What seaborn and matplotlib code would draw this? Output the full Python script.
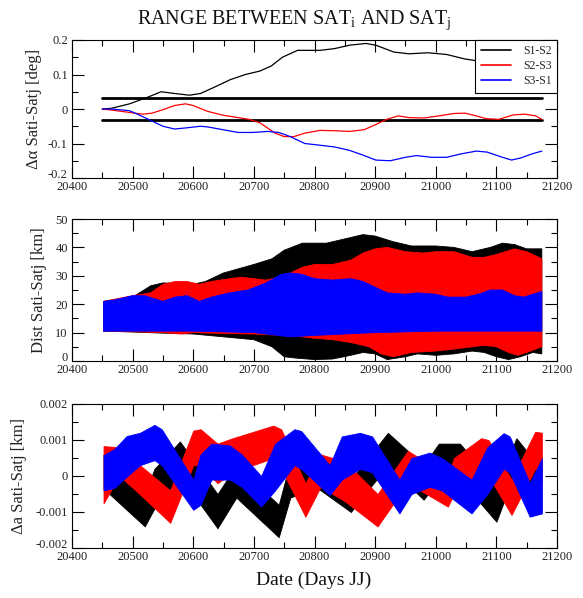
import numpy as np
import pandas as pd
import matplotlib
matplotlib.use("Agg")
import matplotlib.pyplot as plt
import seaborn as sns
from matplotlib.ticker import MultipleLocator

# ---------------- DATA ----------------
series_names = ["S1-S2", "S2-S3", "S3-S1"]
series_colors = ["black", "red", "blue"]

# Top panel: delta alpha [deg]
alpha_s12_dates = [20450, 20465, 20495, 20526, 20547, 20569, 20594, 20612, 20637, 20661, 20686, 20710,
                   20729, 20747, 20772, 20809, 20833, 20858, 20885, 20901, 20931, 20956, 20987, 21018,
                   21048, 21067, 21110, 21175]
alpha_s12 = [0, 0.002, 0.015, 0.035, 0.05, 0.045, 0.04, 0.045, 0.065, 0.085, 0.1, 0.11,
             0.125, 0.15, 0.17, 0.17, 0.175, 0.185, 0.19, 0.185, 0.165, 0.16, 0.163, 0.158,
             0.145, 0.14, 0.14, 0.135]
alpha_s23_dates = [20450, 20465, 20495, 20517, 20532, 20550, 20569, 20587, 20600, 20624, 20649, 20674,
                   20692, 20710, 20735, 20750, 20766, 20784, 20809, 20833, 20858, 20882, 20901, 20919,
                   20938, 20956, 20981, 21005, 21030, 21048, 21067, 21083, 21104, 21128, 21147, 21165, 21175]
alpha_s23 = [0, -0.003, -0.01, -0.015, -0.012, -0.002, 0.01, 0.015, 0.01, -0.007, -0.018, -0.025,
             -0.03, -0.04, -0.07, -0.08, -0.08, -0.07, -0.062, -0.063, -0.065, -0.06, -0.045, -0.03,
             -0.02, -0.025, -0.026, -0.02, -0.013, -0.012, -0.02, -0.028, -0.03, -0.017, -0.015, -0.02, -0.03]
alpha_s31_dates = [20450, 20465, 20495, 20514, 20532, 20550, 20569, 20587, 20612, 20624, 20649, 20674,
                   20698, 20723, 20741, 20760, 20784, 20809, 20833, 20858, 20882, 20901, 20925, 20950,
                   20968, 20993, 21018, 21042, 21067, 21085, 21110, 21125, 21140, 21159, 21175]
alpha_s31 = [0, 0, -0.005, -0.02, -0.035, -0.05, -0.058, -0.055, -0.05, -0.052, -0.06, -0.068,
             -0.068, -0.065, -0.068, -0.08, -0.1, -0.105, -0.11, -0.12, -0.135, -0.148, -0.15, -0.14,
             -0.135, -0.14, -0.14, -0.13, -0.122, -0.125, -0.14, -0.148, -0.142, -0.13, -0.122]
limit_level = 0.032
limit_dates = [20450, 21175]

# Middle panel: distance envelopes [km]
dist_s12_up_dates = [20452, 20500, 20530, 20550, 20600, 20620, 20650, 20700, 20730, 20750, 20780, 20820,
                     20850, 20880, 20900, 20930, 20960, 21000, 21030, 21060, 21090, 21110, 21130, 21150, 21175]
dist_s12_up = [21, 22.5, 26.5, 27.5, 27, 28, 31, 34, 36, 39, 41.5, 41.5,
               43, 44.5, 44, 42, 40.5, 40.5, 40, 38.5, 40, 41.5, 41, 39.5, 39.5]
dist_s12_lo_dates = [20452, 20500, 20550, 20600, 20650, 20700, 20730, 20750, 20770, 20800, 20830, 20860,
                     20880, 20900, 20920, 20950, 20970, 21000, 21030, 21060, 21080, 21100, 21120, 21140, 21160, 21175]
dist_s12_lo = [10.5, 10.2, 9.8, 9.5, 8.5, 7.5, 5, 1.5, 1, 0.5, 0.7, 2,
               3, 2.5, 0.5, 1.5, 2.5, 2, 2.5, 3.5, 3, 1.5, 0.5, 1.5, 3, 2.5]
dist_s23_up_dates = [20452, 20500, 20530, 20550, 20570, 20590, 20610, 20630, 20660, 20680, 20700, 20720,
                     20750, 20780, 20800, 20830, 20860, 20880, 20900, 20920, 20950, 20980, 21000, 21030,
                     21060, 21080, 21100, 21130, 21150, 21175]
dist_s23_up = [21, 23, 24, 27, 28, 28, 27, 28, 29, 29.5, 29, 28.5,
               30, 33, 34, 34, 35.5, 38, 39.5, 40, 38.5, 38, 38.5, 38.5,
               36.5, 36.5, 37.5, 39.5, 38.5, 36]
dist_s23_lo_dates = [20452, 20500, 20550, 20580, 20600, 20650, 20700, 20750, 20780, 20800, 20830, 20860,
                     20890, 20910, 20930, 20960, 21000, 21030, 21060, 21080, 21100, 21120, 21135, 21150, 21175]
dist_s23_lo = [10.5, 10.3, 10, 9.5, 10, 9.7, 9.5, 9, 8.5, 8, 7.5, 6.5,
               5, 2.5, 1.5, 3, 3.5, 4.2, 5, 5.5, 5, 3, 2, 3, 5]
dist_s31_up_dates = [20452, 20470, 20500, 20520, 20550, 20570, 20590, 20610, 20630, 20660, 20690, 20720,
                     20745, 20760, 20780, 20800, 20830, 20860, 20880, 20900, 20920, 20950, 20970, 21000,
                     21020, 21050, 21070, 21090, 21110, 21130, 21145, 21175]
dist_s31_up = [21, 21.5, 23, 23, 21, 22.5, 23, 21, 22.5, 24, 25, 27.5,
               30.5, 31, 30.5, 29, 28.5, 29, 28, 26, 24, 23.5, 24, 23.5,
               22.5, 22.5, 23.5, 25, 25, 23, 22.5, 24.5]
dist_s31_lo_dates = [20452, 20500, 20600, 20700, 20740, 20760, 20800, 20850, 20900, 21000, 21175]
dist_s31_lo = [10.5, 10.5, 10.5, 10, 9, 8.5, 9, 9.5, 10, 10.5, 10.5]

# Bottom panel: delta a envelopes [km]
da_s12_dates = [20452, 20520, 20536, 20578, 20640, 20671, 20741, 20760, 20802, 20860, 20921, 20980,
                21005, 21040, 21100, 21133, 21174]
da_s12_lo = [-0.00035, -0.0014, -0.0009, 0.0, -0.00145, -0.0006, -0.0017, -0.0006, -0.0003, -0.001,
             0.0003, -0.00066, -0.0001, -0.0001, -0.00127, 0.0002, -0.001]
da_s12_hi = [0.0006, -0.0005, 0.0002, 0.00096, -0.0005, 0.0003, -0.0008, 0.0004, 0.00065, -0.0001,
             0.0012, 0.0003, 0.0009, 0.0009, -0.0003, 0.00105, 0.0002]
da_s23_dates = [20452, 20478, 20505, 20562, 20600, 20612, 20640, 20665, 20732, 20745, 20785, 20810,
                20850, 20904, 20954, 21020, 21030, 21075, 21087, 21125, 21164, 21175]
da_s23_lo = [-0.00076, 0.0, -0.0004, -0.0013, 0.0003, 0.0003, -0.0002, 0.0001, 0.0005, 0.0002,
             -0.00113, -0.0003, -0.0007, -0.0014, -0.0002, -0.00085, -0.0005, 0.0001, 0.0, -0.00108,
             0.0002, -0.0002]
da_s23_hi = [0.00083, 0.0008, 0.0004, -0.0004, 0.00126, 0.0013, 0.0009, 0.00105, 0.0014, 0.0013,
             -0.0002, 0.0006, 0.0004, -0.0005, 0.0007, 0.0, 0.0005, 0.00105, 0.001, -0.0001,
             0.00123, 0.0012]
da_s31_dates = [20452, 20470, 20490, 20512, 20536, 20548, 20600, 20612, 20630, 20660, 20680, 20712,
                20735, 20767, 20778, 20825, 20845, 20875, 20895, 20940, 20960, 20990, 21010, 21059,
                21085, 21112, 21122, 21155, 21175]
da_s31_lo = [-0.0004, -0.00033, -0.00002, 0.0003, 0.00044, 0.0003, -0.00094, -0.0008, -0.0001, -0.0001,
             -0.0003, -0.00085, -0.0004, 0.0003, 0.0002, -0.00053, -0.0001, 0.0002, 0.0001, -0.00104,
             -0.0005, -0.0003, -0.0004, -0.00104, -0.0005, 0.0002, 0.0001, -0.00113, -0.00104]
da_s31_hi = [0.00058, 0.00075, 0.00111, 0.0012, 0.00142, 0.0013, -0.0001, 0.0006, 0.0009, 0.00085,
             0.0006, 0.0, 0.0009, 0.0013, 0.00125, 0.0003, 0.0011, 0.0012, 0.0011, -0.0001,
             0.0005, 0.00065, 0.0005, -0.0001, 0.0008, 0.00119, 0.0011, -0.0002, 0.00049]

x_ticks = [20400, 20500, 20600, 20700, 20800, 20900, 21000, 21100, 21200]
top_yticks = [-0.2, -0.1, 0, 0.1, 0.2]
top_yticklabels = ["-0.2", "-0.1", "0", "0.1", "0.2"]
mid_yticks = [0, 10, 20, 30, 40, 50]
mid_yticklabels = ["0", "10", "20", "30", "40", "50"]
bot_yticks = [-0.002, -0.001, 0, 0.001, 0.002]
bot_yticklabels = ["-0.002", "-0.001", "0", "0.001", "0.002"]

title_text = r"RANGE BETWEEN SAT$_{\mathrm{i}}$ AND SAT$_{\mathrm{j}}$"
xlabel_text = "Date (Days JJ)"
ylabels = ["Δα Sati-Satj [deg]", "Dist Sati-Satj [km]", "Δa Sati-Satj [km]"]

# ---------------- STYLE ----------------
sns.set_theme(style="ticks")
plt.rcParams["font.family"] = ["Liberation Serif", "DejaVu Serif"]
plt.rcParams["mathtext.fontset"] = "custom"
plt.rcParams["mathtext.rm"] = "Liberation Serif"
plt.rcParams["mathtext.it"] = "Liberation Serif:italic"
plt.rcParams["axes.edgecolor"] = "black"
plt.rcParams["axes.linewidth"] = 0.8

W, H = 583, 598
fig = plt.figure(figsize=(W / 100, H / 100), dpi=100)

def ax_rect(top_px, bottom_px, left_px=72, right_px=557):
    return [left_px / W, 1 - bottom_px / H, (right_px - left_px) / W, (bottom_px - top_px) / H]

ax1 = fig.add_axes(ax_rect(40, 178))
ax2 = fig.add_axes(ax_rect(219, 361))
ax3 = fig.add_axes(ax_rect(404, 548))

def style_axes(ax, yticks, yticklabels, ylim, yminor, ylabel, label_x):
    ax.set_xlim(20400, 21200)
    ax.set_ylim(*ylim)
    ax.set_xticks(x_ticks)
    ax.set_xticklabels([str(t) for t in x_ticks])
    ax.xaxis.set_minor_locator(MultipleLocator(50))
    ax.set_yticks(yticks)
    ax.set_yticklabels(yticklabels)
    ax.yaxis.set_minor_locator(MultipleLocator(yminor))
    ax.tick_params(which="both", direction="in", top=True, right=True, colors="black",
                   width=0.8, labelsize=9, labelcolor="#222222")
    ax.tick_params(which="major", length=8.8, pad=3)
    ax.tick_params(which="minor", length=4.6)
    ax.tick_params(axis="x", which="major", pad=2.5)
    # sit the lowest y label on its baseline so it clears the first x label
    ax.get_yticklabels()[0].set_va("baseline")
    ax.set_xlabel("")
    ax.set_ylabel(ylabel, fontsize=12, color="#222222")
    ax.yaxis.set_label_coords(label_x, 0.5)
    for s in ax.spines.values():
        s.set_visible(True)
        s.set_color("black")
        s.set_linewidth(0.8)

# ---- Top panel ----
alpha_frames = []
for name, d, v in zip(series_names,
                      [alpha_s12_dates, alpha_s23_dates, alpha_s31_dates],
                      [alpha_s12, alpha_s23, alpha_s31]):
    alpha_frames.append(pd.DataFrame({"date": d, "value": v, "pair": name}))
alpha_df = pd.concat(alpha_frames, ignore_index=True)
sns.lineplot(data=alpha_df, x="date", y="value", hue="pair", hue_order=series_names,
             palette=series_colors, linewidth=0.9, ax=ax1, sort=False, estimator=None)
ax1.plot(limit_dates, [limit_level, limit_level], color="black", lw=2.0, zorder=1)
ax1.plot(limit_dates, [-limit_level, -limit_level], color="black", lw=2.0, zorder=1)
style_axes(ax1, top_yticks, top_yticklabels, (-0.2, 0.2), 0.05, ylabels[0], -0.062)
leg = ax1.legend(loc="upper right", borderaxespad=0, frameon=True, fancybox=False,
                 edgecolor="black", framealpha=1, fontsize=8.5, handlelength=2.6,
                 labelspacing=0.25, borderpad=0.45, handletextpad=1.0)
leg.get_frame().set_linewidth(0.8)
for line in leg.get_lines():
    line.set_linewidth(1.2)

# ---- Middle panel ----
mid_sets = [
    (dist_s12_up_dates, dist_s12_up, dist_s12_lo_dates, dist_s12_lo),
    (dist_s23_up_dates, dist_s23_up, dist_s23_lo_dates, dist_s23_lo),
    (dist_s31_up_dates, dist_s31_up, dist_s31_lo_dates, dist_s31_lo),
]
for (du, vu, dl, vl), c in zip(mid_sets, series_colors):
    xs = list(du) + list(dl)[::-1]
    ys = list(vu) + list(vl)[::-1]
    ax2.fill(xs, ys, color=c, lw=0.6, edgecolor=c)
style_axes(ax2, mid_yticks, mid_yticklabels, (0, 50), 5, ylabels[1], -0.052)

# ---- Bottom panel ----
bot_sets = [
    (da_s12_dates, da_s12_lo, da_s12_hi),
    (da_s23_dates, da_s23_lo, da_s23_hi),
    (da_s31_dates, da_s31_lo, da_s31_hi),
]
for (d, lo, hi), c in zip(bot_sets, series_colors):
    ax3.fill_between(d, lo, hi, color=c, lw=0.6, edgecolor=c)
style_axes(ax3, bot_yticks, bot_yticklabels, (-0.002, 0.002), 0.0005, ylabels[2], -0.093)

fig.text(0.505, 1 - 20 / H, title_text, ha="center", va="center", fontsize=14.5, color="#111111")
fig.text(314 / W, 1 - 580 / H, xlabel_text, ha="center", va="center", fontsize=14, color="#111111")

fig.savefig("out.png", dpi=100)
